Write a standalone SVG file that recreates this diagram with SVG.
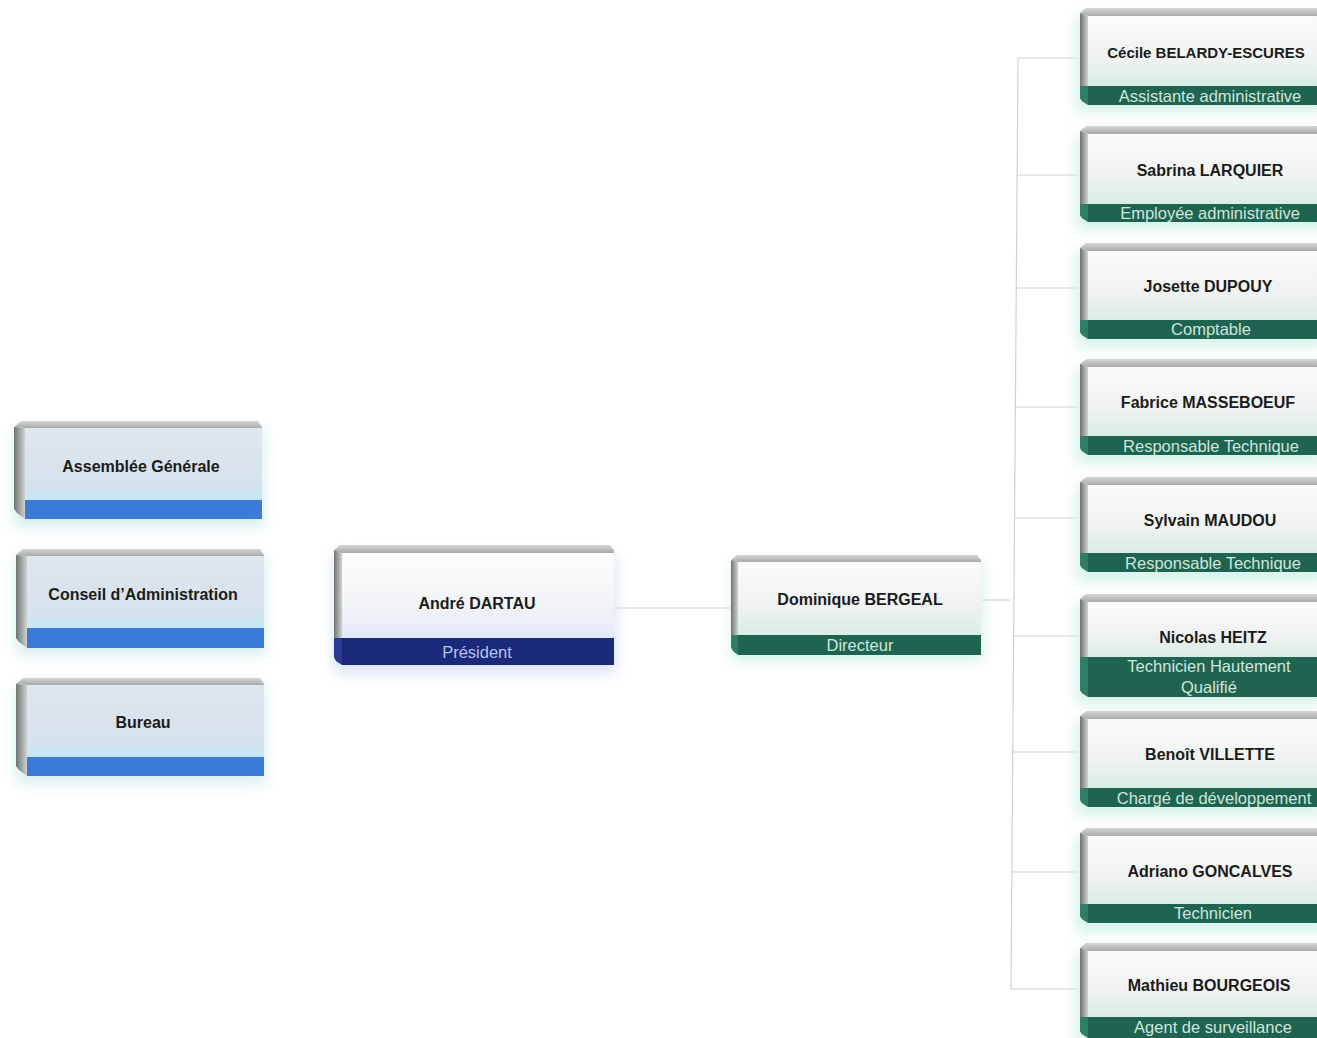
<svg xmlns="http://www.w3.org/2000/svg" width="1317" height="1038" viewBox="0 0 1317 1038">
<defs>
  <linearGradient id="gTop" x1="0" y1="0" x2="0" y2="1">
    <stop offset="0" stop-color="#d6d6d6"/>
    <stop offset="1" stop-color="#a9a9a9"/>
  </linearGradient>
  <linearGradient id="gLeft" x1="0" y1="0" x2="1" y2="0">
    <stop offset="0" stop-color="#6f7572"/>
    <stop offset="1" stop-color="#cfd2d0"/>
  </linearGradient>
  <linearGradient id="gFace" x1="0" y1="0" x2="0" y2="1">
    <stop offset="0" stop-color="#fbfbfb"/>
    <stop offset="0.6" stop-color="#f0f2f1"/>
    <stop offset="1" stop-color="#d9ece5"/>
  </linearGradient>
  <linearGradient id="gBlueFace" x1="0" y1="0" x2="0" y2="1">
    <stop offset="0" stop-color="#dfe6ee"/>
    <stop offset="0.75" stop-color="#d6e2ec"/>
    <stop offset="1" stop-color="#c6e8f6"/>
  </linearGradient>
  <linearGradient id="gPresFace" x1="0" y1="0" x2="0" y2="1">
    <stop offset="0" stop-color="#fcfcfc"/>
    <stop offset="0.6" stop-color="#f3f4f7"/>
    <stop offset="1" stop-color="#e1e8f7"/>
  </linearGradient>
  <filter id="glow" x="-20%" y="-30%" width="140%" height="160%">
    <feGaussianBlur stdDeviation="7"/>
  </filter>
</defs>
<style>
  .tb{fill:url(#gTop)}
  .lb{fill:url(#gLeft)}
  .face{fill:url(#gFace)}
  .bface{fill:url(#gBlueFace)}
  .pface{fill:url(#gPresFace)}
  .band{fill:#1f6450}
  .lbg{fill:#2f7d66}
  .bband{fill:#3b7ad6}
  .lbb{fill:#4f87c8}
  .pband{fill:#1b297a}
  .lbp{fill:#2b3a92}
  .title{font-family:"Liberation Sans",Arial,sans-serif;font-weight:bold;font-size:16px;fill:#1b1b1b;text-anchor:middle}
  .role{font-family:"Liberation Sans",Arial,sans-serif;font-size:16.5px;fill:#cfe6dd;text-anchor:middle}
  .prole{font-family:"Liberation Sans",Arial,sans-serif;font-size:16.5px;fill:#b8c2ec;text-anchor:middle}
  .conn{stroke:#d0d0d0;stroke-width:1.2;fill:none}
  .glowG{fill:#d6f2ea;filter:url(#glow)}
  .glowB{fill:#d9eef0;filter:url(#glow)}
  .glowP{fill:#d9e2f6;filter:url(#glow)}
</style>

<g id="connectors">
  <path class="conn" d="M614,608 H731"/>
  <path class="conn" d="M981,600 H1010"/>
  <path class="conn" d="M1018,58 L1011,989"/>
  <path class="conn" d="M1018,58 H1078"/>
  <path class="conn" d="M1017,175 H1078"/>
  <path class="conn" d="M1016,288 H1078"/>
  <path class="conn" d="M1015,407 H1078"/>
  <path class="conn" d="M1014,518 H1078"/>
  <path class="conn" d="M1013,636 H1078"/>
  <path class="conn" d="M1013,752 H1078"/>
  <path class="conn" d="M1012,872 H1078"/>
  <path class="conn" d="M1011,989 H1078"/>
</g>

<!-- Left column -->
<g id="assemblee" transform="translate(14,421)">
  <rect class="glowB" x="0" y="8" width="250" height="98"/>
  <path class="tb" d="M0,6 L7,0 H244 L248,6 V7 H11 Z"/>
  <path class="lb" d="M0,6 L11,7 V98 L3,92 L0,88 Z"/>
  <rect class="bface" x="11" y="7" width="237" height="72"/>
  <rect class="bband" x="11" y="79" width="237" height="19"/>
  <text class="title" x="127" y="51">Assemblée Générale</text>
</g>
<g id="conseil" transform="translate(16,549)">
  <rect class="glowB" x="0" y="8" width="250" height="98"/>
  <path class="tb" d="M0,6 L7,0 H244 L248,6 V7 H11 Z"/>
  <path class="lb" d="M0,6 L11,7 V99 L3,93 L0,89 Z"/>
  <rect class="bface" x="11" y="7" width="237" height="72"/>
  <rect class="bband" x="11" y="79" width="237" height="20"/>
  <text class="title" x="127" y="51">Conseil d’Administration</text>
</g>
<g id="bureau" transform="translate(16,678)">
  <rect class="glowB" x="0" y="8" width="250" height="98"/>
  <path class="tb" d="M0,6 L7,0 H244 L248,6 V7 H11 Z"/>
  <path class="lb" d="M0,6 L11,7 V98 L3,92 L0,88 Z"/>
  <rect class="bface" x="11" y="7" width="237" height="72"/>
  <rect class="bband" x="11" y="79" width="237" height="19"/>
  <text class="title" x="127" y="50">Bureau</text>
</g>

<!-- President -->
<g id="president" transform="translate(334,545)">
  <rect class="glowP" x="0" y="10" width="282" height="118"/>
  <path class="tb" d="M0,5 L6,0 H276 L280,5 V8 H8 Z"/>
  <path class="lb" d="M0,5 L8,8 V120 L2,116 L0,112 Z"/>
  <path class="lbp" d="M0,93 H8 V120 L2,116 L0,112 Z"/>
  <rect class="pface" x="8" y="8" width="272" height="85"/>
  <rect class="pband" x="8" y="93" width="272" height="27"/>
  <text class="title" x="143" y="64">André DARTAU</text>
  <text class="prole" x="143" y="113">Président</text>
</g>

<!-- Director -->
<g id="directeur" transform="translate(731,555)">
  <rect class="glowG" x="0" y="8" width="252" height="98"/>
  <path class="tb" d="M0,5 L6,0 H246 L250,5 V7 H7 Z"/>
  <path class="lb" d="M0,5 L7,7 V100 L2,96 L0,92 Z"/>
  <path class="lbg" d="M0,80 H7 V100 L2,96 L0,92 Z"/>
  <rect class="face" x="7" y="7" width="243" height="73"/>
  <rect class="band" x="7" y="80" width="243" height="20"/>
  <text class="title" x="129" y="50">Dominique BERGEAL</text>
  <text class="role" x="129" y="96">Directeur</text>
</g>

<!-- Right column -->
<g id="cecile" transform="translate(1080,8)">
  <rect class="glowG" x="-4" y="8" width="250" height="96"/>
  <path class="tb" d="M0,5 L6,0 H245 V8 H8 Z"/>
  <path class="lb" d="M0,5 L8,8 V97 L2,93 L0,90 Z"/>
  <path class="lbg" d="M0,78 H8 V97 L2,93 L0,90 Z"/>
  <rect class="face" x="8" y="8" width="237" height="70"/>
  <rect class="band" x="8" y="78" width="237" height="19"/>
  <text class="title" x="126" y="50" style="font-size:15px">Cécile BELARDY-ESCURES</text>
  <text class="role" x="130" y="94">Assistante administrative</text>
</g>
<g id="sabrina" transform="translate(1080,126)">
  <rect class="glowG" x="-4" y="8" width="250" height="96"/>
  <path class="tb" d="M0,5 L6,0 H245 V8 H8 Z"/>
  <path class="lb" d="M0,5 L8,8 V96 L2,92 L0,89 Z"/>
  <path class="lbg" d="M0,78 H8 V96 L2,92 L0,89 Z"/>
  <rect class="face" x="8" y="8" width="237" height="70"/>
  <rect class="band" x="8" y="78" width="237" height="18"/>
  <text class="title" x="130" y="50">Sabrina LARQUIER</text>
  <text class="role" x="130" y="93">Employée administrative</text>
</g>
<g id="josette" transform="translate(1080,243)">
  <rect class="glowG" x="-4" y="8" width="250" height="96"/>
  <path class="tb" d="M0,5 L6,0 H245 V8 H8 Z"/>
  <path class="lb" d="M0,5 L8,8 V96 L2,92 L0,89 Z"/>
  <path class="lbg" d="M0,77 H8 V96 L2,92 L0,89 Z"/>
  <rect class="face" x="8" y="8" width="237" height="69"/>
  <rect class="band" x="8" y="77" width="237" height="19"/>
  <text class="title" x="128" y="49">Josette DUPOUY</text>
  <text class="role" x="131" y="92">Comptable</text>
</g>
<g id="fabrice" transform="translate(1080,359)">
  <rect class="glowG" x="-4" y="8" width="250" height="96"/>
  <path class="tb" d="M0,5 L6,0 H245 V8 H8 Z"/>
  <path class="lb" d="M0,5 L8,8 V96 L2,92 L0,89 Z"/>
  <path class="lbg" d="M0,77 H8 V96 L2,92 L0,89 Z"/>
  <rect class="face" x="8" y="8" width="237" height="69"/>
  <rect class="band" x="8" y="77" width="237" height="19"/>
  <text class="title" x="128" y="49">Fabrice MASSEBOEUF</text>
  <text class="role" x="131" y="93">Responsable Technique</text>
</g>
<g id="sylvain" transform="translate(1080,477)">
  <rect class="glowG" x="-4" y="8" width="250" height="96"/>
  <path class="tb" d="M0,5 L6,0 H245 V8 H8 Z"/>
  <path class="lb" d="M0,5 L8,8 V95 L2,91 L0,88 Z"/>
  <path class="lbg" d="M0,76 H8 V95 L2,91 L0,88 Z"/>
  <rect class="face" x="8" y="8" width="237" height="68"/>
  <rect class="band" x="8" y="76" width="237" height="19"/>
  <text class="title" x="130" y="49">Sylvain MAUDOU</text>
  <text class="role" x="133" y="92">Responsable Technique</text>
</g>
<g id="nicolas" transform="translate(1080,594)">
  <rect class="glowG" x="-4" y="8" width="250" height="102"/>
  <path class="tb" d="M0,5 L6,0 H245 V8 H8 Z"/>
  <path class="lb" d="M0,5 L8,8 V103 L2,99 L0,96 Z"/>
  <path class="lbg" d="M0,63 H8 V103 L2,99 L0,96 Z"/>
  <rect class="face" x="8" y="8" width="237" height="55"/>
  <rect class="band" x="8" y="63" width="237" height="40"/>
  <text class="title" x="133" y="49">Nicolas HEITZ</text>
  <text class="role" x="129" y="78">Technicien Hautement</text>
  <text class="role" x="129" y="99">Qualifié</text>
</g>
<g id="benoit" transform="translate(1080,711)">
  <rect class="glowG" x="-4" y="8" width="250" height="96"/>
  <path class="tb" d="M0,5 L6,0 H245 V8 H8 Z"/>
  <path class="lb" d="M0,5 L8,8 V96 L2,92 L0,89 Z"/>
  <path class="lbg" d="M0,77 H8 V96 L2,92 L0,89 Z"/>
  <rect class="face" x="8" y="8" width="237" height="69"/>
  <rect class="band" x="8" y="77" width="237" height="19"/>
  <text class="title" x="130" y="49">Benoît VILLETTE</text>
  <text class="role" x="134" y="93">Chargé de développement</text>
</g>
<g id="adriano" transform="translate(1080,828)">
  <rect class="glowG" x="-4" y="8" width="250" height="96"/>
  <path class="tb" d="M0,5 L6,0 H245 V8 H8 Z"/>
  <path class="lb" d="M0,5 L8,8 V95 L2,91 L0,88 Z"/>
  <path class="lbg" d="M0,76 H8 V95 L2,91 L0,88 Z"/>
  <rect class="face" x="8" y="8" width="237" height="68"/>
  <rect class="band" x="8" y="76" width="237" height="19"/>
  <text class="title" x="130" y="49">Adriano GONCALVES</text>
  <text class="role" x="133" y="91">Technicien</text>
</g>
<g id="mathieu" transform="translate(1080,943)">
  <rect class="glowG" x="-4" y="8" width="250" height="96"/>
  <path class="tb" d="M0,5 L6,0 H245 V8 H8 Z"/>
  <path class="lb" d="M0,5 L8,8 V95 L2,91 L0,88 Z"/>
  <path class="lbg" d="M0,74 H8 V95 L2,91 L0,88 Z"/>
  <rect class="face" x="8" y="8" width="237" height="66"/>
  <rect class="band" x="8" y="74" width="237" height="21"/>
  <text class="title" x="129" y="48">Mathieu BOURGEOIS</text>
  <text class="role" x="133" y="90">Agent de surveillance</text>
</g>
</svg>
